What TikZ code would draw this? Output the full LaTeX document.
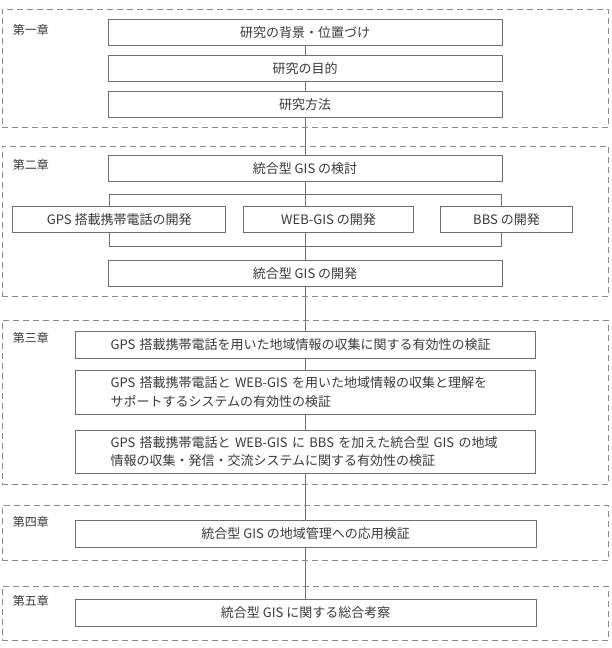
\documentclass[tikz,border=0pt]{standalone}
\usepackage{fontspec}
\setmainfont{Noto Sans CJK JP}
\usetikzlibrary{backgrounds}
\definecolor{linegray}{HTML}{6F6F6F}
\definecolor{framegray}{HTML}{8A8A8A}
\definecolor{textgray}{HTML}{3A3A3A}
\begin{document}
\begin{tikzpicture}[x=1pt,y=-1pt,
  box/.style={draw=linegray, line width=0.9pt, fill=white, minimum height=26.5pt, inner sep=0pt, text=textgray, font=\fontsize{13}{16}\selectfont},
  wbox/.style={box, minimum width=394pt},
  lbox/.style={box, text width=390pt, inner xsep=35.3pt, align=left, font=\fontsize{13}{18.5}\selectfont},
  frame/.style={draw=framegray, dash pattern=on 6pt off 4pt, line width=0.8pt, minimum width=606.5pt, inner sep=0pt},
  chap/.style={text=textgray, font=\fontsize{12}{14}\selectfont, anchor=west, inner sep=0pt},
  link/.style={draw=linegray, line width=0.9pt}]
\useasboundingbox (0,0) rectangle (612,648);
% chapter frames
\node[frame, minimum height=118pt] (fr1) at (305.25,68.3) {};
\node[frame, minimum height=150.7pt] (fr2) at (305.25,221.35) {};
\node[frame, minimum height=164pt] (fr3) at (305.25,402) {};
\node[frame, minimum height=55pt] (fr4) at (305.25,533.2) {};
\node[frame, minimum height=54pt] (fr5) at (305.25,613) {};
% chapter labels
\node[chap] (ch1) at (12.7,30) {第一章};
\node[chap] (ch2) at (12.7,165) {第二章};
\node[chap] (ch3) at (12.7,337.7) {第三章};
\node[chap] (ch4) at (12.7,522) {第四章};
\node[chap] (ch5) at (12.7,600.7) {第五章};
% chapter 1
\node[wbox] (b1) at (305,32.5) {研究の背景・位置づけ};
\node[wbox] (b2) at (305,68.5) {研究の目的};
\node[wbox] (b3) at (305,104.2) {研究方法};
% chapter 2
\node[wbox] (c1) at (305,168.3) {統合型 GIS の検討};
\node[box, minimum width=213pt, minimum height=26.7pt] (c2) at (119.2,219.3) {GPS 搭載携帯電話の開発};
\node[box, minimum width=169.6pt, minimum height=26.7pt] (c3) at (328.5,219.3) {WEB-GIS の開発};
\node[box, minimum width=132.4pt, minimum height=26.7pt] (c4) at (506.5,219.3) {BBS の開発};
\node[wbox] (c5) at (305,273.3) {統合型 GIS の開発};
% chapter 3
\node[lbox, minimum height=26.6pt] (d1) at (305.6,345) {GPS 搭載携帯電話を用いた地域情報の収集に関する有効性の検証};
\node[lbox, minimum height=43.3pt] (d2) at (305.6,392.3) {GPS 搭載携帯電話と WEB-GIS を用いた地域情報の収集と理解を\\サポートするシステムの有効性の検証};
\node[lbox, minimum height=43.3pt] (d3) at (305.6,451.7) {GPS 搭載携帯電話と WEB-GIS に BBS を加えた統合型 GIS の地域\\情報の収集・発信・交流システムに関する有効性の検証};
% chapter 4, 5
\node[box, minimum width=460.7pt] (e1) at (305.6,533.7) {統合型 GIS の地域管理への応用検証};
\node[box, minimum width=460.7pt] (f1) at (305.6,612.7) {統合型 GIS に関する総合考察};
% connectors behind the boxes
\begin{pgfonlayer}{background}
\node[draw=linegray, line width=0.9pt, minimum width=391.7pt, minimum height=52.7pt, inner sep=0pt] (br) at (305.15,220.35) {};
\draw[link] (b1.south) -- (b1.south |- f1.north);
\end{pgfonlayer}
\end{tikzpicture}
\end{document}
